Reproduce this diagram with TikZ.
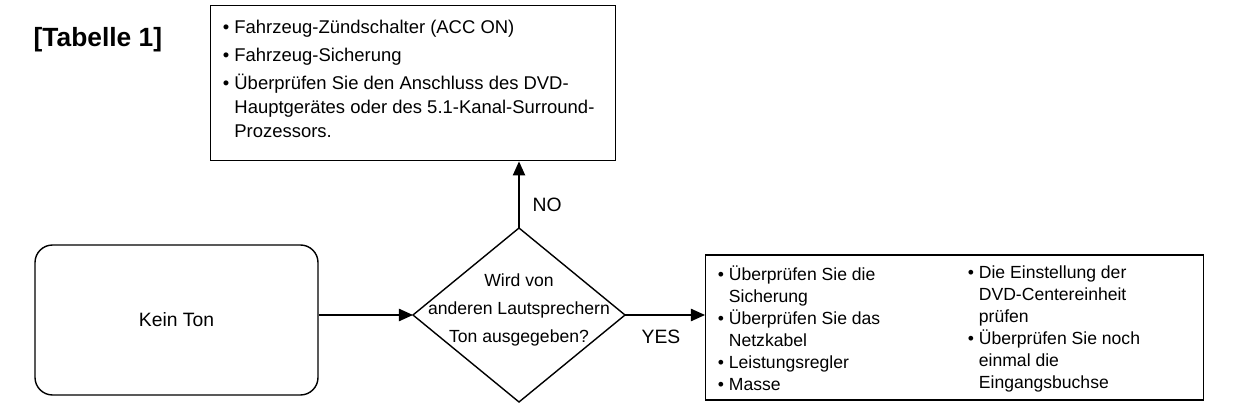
\documentclass[tikz,border=0pt]{standalone}
\usepackage{fontspec}
\setmainfont{Liberation Sans}
\usetikzlibrary{positioning,arrows.meta}

\tikzset{
  box/.style={draw, thick, inner sep=0pt},
  txt/.style={align=left, anchor=north west, font=\fontsize{10.5}{13.8}\selectfont, inner sep=0pt},
  chk/.style={align=left, anchor=north west, font=\fontsize{10}{12.6}\selectfont, inner sep=0pt},
  arr/.style={-{Triangle[length=8pt,width=7pt]}, thick}
}

\begin{document}
\begin{tikzpicture}
\useasboundingbox (0,0) rectangle (24.74,-8.12);

\node[font=\bfseries\fontsize{15}{18}\selectfont, anchor=west] (title) at (0.55,-0.8) {[Tabelle 1]};

% top box
\node[box, minimum width=8.1cm, minimum height=3.1cm, anchor=north west] (top) at (4.2,-0.1) {};
\node[txt] (toptxt) at (4.45,-0.4) {%
\textbullet\ Fahrzeug-Zündschalter (ACC ON)\\[2pt]
\textbullet\ Fahrzeug-Sicherung\\[2pt]
\textbullet\ Überprüfen Sie den Anschluss des DVD-\\
\hphantom{\textbullet\ }Hauptgerätes oder des 5.1-Kanal-Surround-\\
\hphantom{\textbullet\ }Prozessors.};

% start
\node[box, rounded corners=10pt, minimum width=5.66cm, minimum height=3cm,
      font=\fontsize{11}{13}\selectfont] (start) at (3.53,-6.4) {Kein Ton};

% decision
\node[align=center, font=\fontsize{10}{16}\selectfont] (ask) at (10.38,-6.2)
      {Wird von\\anderen Lautsprechern\\Ton ausgegeben?};
\coordinate (askN) at (10.38,-4.56);
\coordinate (askS) at (10.38,-8.04);
\coordinate (askW) at (8.26,-6.3);
\coordinate (askE) at (12.5,-6.3);
\draw[thick] (askN) -- (askE) -- (askS) -- (askW) -- cycle;

% right box
\node[box, minimum width=9.96cm, minimum height=2.9cm, anchor=west] (check) at (14.1,-6.55) {};
\node[chk] (chk1) at (14.35,-5.3) {%
\textbullet\ Überprüfen Sie die\\
\hphantom{\textbullet\ }Sicherung\\
\textbullet\ Überprüfen Sie das\\
\hphantom{\textbullet\ }Netzkabel\\
\textbullet\ Leistungsregler\\
\textbullet\ Masse};
\node[chk] (chk2) at (19.35,-5.3) {%
\textbullet\ Die Einstellung der\\
\hphantom{\textbullet\ }DVD-Centereinheit\\
\hphantom{\textbullet\ }prüfen\\
\textbullet\ Überprüfen Sie noch\\
\hphantom{\textbullet\ }einmal die\\
\hphantom{\textbullet\ }Eingangsbuchse};

% connectors
\draw[arr] (start.east |- askW) -- (askW);
\draw[arr] (askN) -- (askN |- top.south) node[pos=0.35, right=4pt, font=\fontsize{11}{13}\selectfont] {NO};
\draw[arr] (askE) -- (askE -| check.west) node[pos=0.45, below=5pt, font=\fontsize{11}{13}\selectfont] {YES};
\end{tikzpicture}
\end{document}
